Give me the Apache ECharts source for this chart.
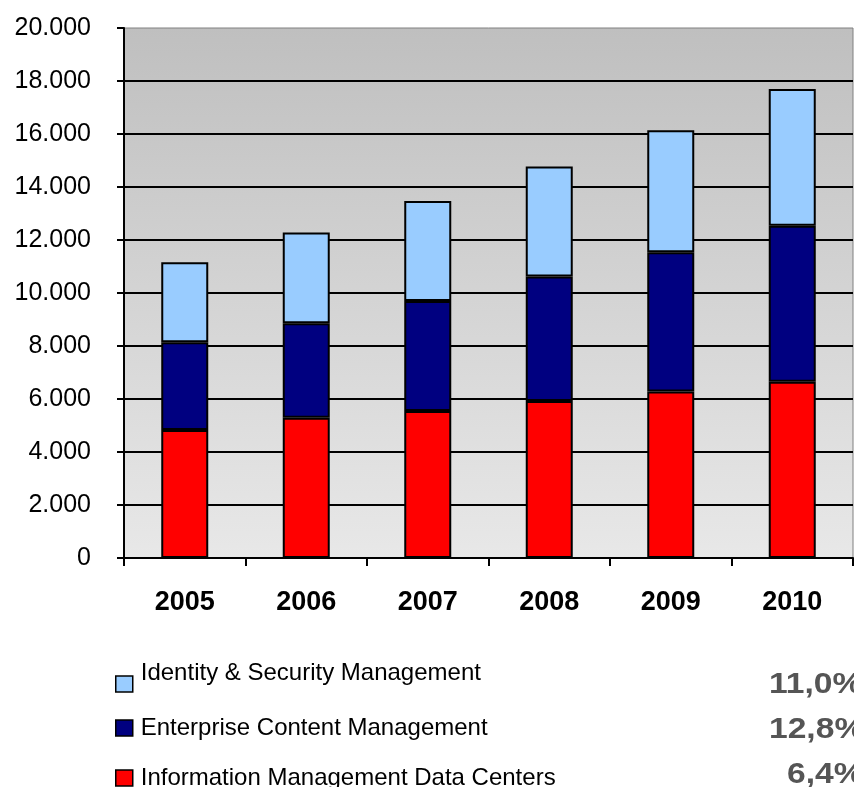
<!DOCTYPE html>
<html><head><meta charset="utf-8">
<script src="https://cdn.jsdelivr.net/npm/echarts@6/dist/echarts.min.js"></script>
<style>html,body{margin:0;padding:0;background:#fff}#c{width:854px;height:787px}</style>
</head><body><div id="c"></div>
<script>
var categories = ['2005','2006','2007','2008','2009','2010'];
var dataCenters = [4830, 5290, 5550, 5920, 6280, 6650];
var contentMgmt = [3310, 3570, 4150, 4700, 5260, 5890];
var identitySec = [3020, 3420, 3770, 4150, 4600, 5160];
var seriesNames = ['Identity & Security Management','Enterprise Content Management','Information Management Data Centers'];
var growthLabels = ['11,0%','12,8%','6,4%'];
var yTicks = {min:0, max:20000, interval:2000};

var chart = echarts.init(document.getElementById('c'));
function fmt(v){ return String(v).replace(/\B(?=(\d{3})+(?!\d))/g,'.'); }
var barStyle = function(c){ return {color:c, borderColor:'#000', borderWidth:2}; };
var FONT = 'Liberation Sans, Arial, sans-serif';
function mkLegend(name, top, twoLine){
  return {orient:'vertical', left:115, top:top, itemWidth:17, itemHeight:16, itemGap:0,
    icon:'rect', data:[name], padding:0,
    itemStyle:{borderColor:'#000', borderWidth:1.5},
    formatter: twoLine ? function(n){ return n + '\n '; } : undefined,
    textStyle:{fontSize:24, color:'#000', lineHeight:22, fontFamily:FONT, padding:[0,0,0,3]}};
}
function pct(i, left, top){
  return {type:'text', left:left, top:top, scaleX:1.12,
    style:{text:growthLabels[i], font:'bold 30px Liberation Sans, Arial', fill:'#555555'}};
}
chart.setOption({
  animation:false,
  textStyle:{fontFamily:FONT},
  grid:{left:124, right:1, top:28, bottom:229, show:true,
    backgroundColor:new echarts.graphic.LinearGradient(0,0,0,1,[{offset:0,color:'#bfbfbf'},{offset:1,color:'#e8e8e8'}]),
    borderColor:'#808080', borderWidth:1},
  xAxis:{type:'category', data:categories,
    axisLine:{lineStyle:{color:'#000', width:2}},
    axisTick:{show:true, alignWithLabel:false, length:8, lineStyle:{color:'#000', width:2}},
    axisLabel:{color:'#000', fontSize:27, fontWeight:'bold', margin:31}},
  yAxis:{type:'value', min:yTicks.min, max:yTicks.max, interval:yTicks.interval,
    axisLine:{show:true, lineStyle:{color:'#000', width:2}},
    axisTick:{show:true, length:7, lineStyle:{color:'#000', width:2}},
    splitLine:{showMaxLine:false, lineStyle:{color:'#000', width:2}},
    axisLabel:{color:'#000', fontSize:25, margin:33, formatter:fmt}},
  legend:[
    mkLegend(seriesNames[0], 661, true),
    mkLegend(seriesNames[1], 716, false),
    mkLegend(seriesNames[2], 766, false)
  ],
  series:[
    {name:seriesNames[2], type:'bar', stack:'a', barWidth:47, data:dataCenters, itemStyle:barStyle('#ff0000')},
    {name:seriesNames[1], type:'bar', stack:'a', barWidth:47, data:contentMgmt, itemStyle:barStyle('#000080')},
    {name:seriesNames[0], type:'bar', stack:'a', barWidth:47, data:identitySec, itemStyle:barStyle('#99ccff')}
  ],
  graphic:[ pct(0, 769, 670), pct(1, 769, 715), pct(2, 787, 760) ]
});
</script></body></html>
